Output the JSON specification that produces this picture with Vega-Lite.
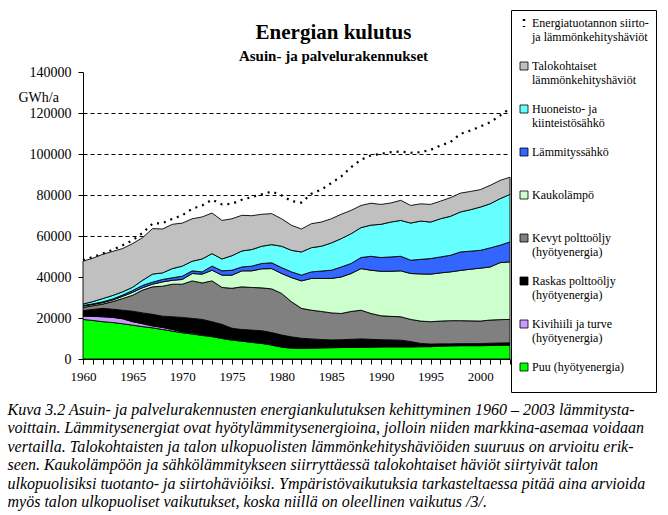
{
  "$schema": "https://vega.github.io/schema/vega-lite/v6.json",
  "width": 427,
  "height": 287,
  "autosize": {"type": "none"},
  "padding": {"left": 83, "top": 72, "right": 158, "bottom": 156},
  "background": "white",
  "title": {
    "text": "Energian kulutus",
    "subtitle": "Asuin- ja palvelurakennukset",
    "font": "Liberation Serif",
    "fontSize": 21,
    "fontWeight": "bold",
    "color": "black",
    "subtitleFont": "Liberation Serif",
    "subtitleFontSize": 15,
    "subtitleFontWeight": "bold",
    "subtitleColor": "black",
    "subtitlePadding": 6,
    "anchor": "middle",
    "frame": "group",
    "dx": 37,
    "offset": -54
  },
  "datasets": {
    "sarjat": [
      {"key": "talo", "ord": 8, "label": "Talokohtaiset|lämmönkehityshäviöt"},
      {"key": "hsahko", "ord": 7, "label": "Huoneisto- ja|kiinteistösähkö"},
      {"key": "lsahko", "ord": 6, "label": "Lämmityssähkö|"},
      {"key": "kauko", "ord": 5, "label": "Kaukolämpö|"},
      {"key": "kevyt", "ord": 4, "label": "Kevyt polttoöljy|(hyötyenergia)"},
      {"key": "raskas", "ord": 3, "label": "Raskas polttoöljy|(hyötyenergia)"},
      {"key": "kivi", "ord": 2, "label": "Kivihiili ja turve|(hyötyenergia)"},
      {"key": "puu", "ord": 1, "label": "Puu  (hyötyenergia)|"}
    ]
  },
  "data": {
    "values": [
      {"v": 1960, "puu": 19300, "kivi": 1600, "raskas": 2700, "kevyt": 1500, "kauko": 700, "lsahko": 300, "hsahko": 700, "talo": 20900, "tot": 48200},
      {"v": 1961, "puu": 18800, "kivi": 2000, "raskas": 3400, "kevyt": 1800, "kauko": 600, "lsahko": 300, "hsahko": 1100, "talo": 21200, "tot": 49800},
      {"v": 1962, "puu": 18200, "kivi": 2400, "raskas": 4100, "kevyt": 2100, "kauko": 700, "lsahko": 400, "hsahko": 1600, "talo": 21600, "tot": 51400},
      {"v": 1963, "puu": 17800, "kivi": 2500, "raskas": 4000, "kevyt": 3700, "kauko": 800, "lsahko": 500, "hsahko": 1700, "talo": 21500, "tot": 53300},
      {"v": 1964, "puu": 17200, "kivi": 2400, "raskas": 4200, "kevyt": 5700, "kauko": 1100, "lsahko": 600, "hsahko": 1600, "talo": 21100, "tot": 55500},
      {"v": 1965, "puu": 16500, "kivi": 1700, "raskas": 5100, "kevyt": 7800, "kauko": 1400, "lsahko": 900, "hsahko": 1600, "talo": 21300, "tot": 57900},
      {"v": 1966, "puu": 15800, "kivi": 1400, "raskas": 5300, "kevyt": 11100, "kauko": 1200, "lsahko": 1100, "hsahko": 2500, "talo": 20800, "tot": 61500},
      {"v": 1967, "puu": 15200, "kivi": 900, "raskas": 5700, "kevyt": 13400, "kauko": 1300, "lsahko": 1000, "hsahko": 3900, "talo": 22200, "tot": 66000},
      {"v": 1968, "puu": 14400, "kivi": 1000, "raskas": 5500, "kevyt": 14600, "kauko": 2100, "lsahko": 1200, "hsahko": 3200, "talo": 21400, "tot": 66300},
      {"v": 1969, "puu": 13600, "kivi": 800, "raskas": 6200, "kevyt": 15900, "kauko": 1900, "lsahko": 1200, "hsahko": 4500, "talo": 21600, "tot": 68400},
      {"v": 1970, "puu": 12800, "kivi": 500, "raskas": 7000, "kevyt": 16200, "kauko": 2300, "lsahko": 1600, "hsahko": 4900, "talo": 21000, "tot": 70100},
      {"v": 1971, "puu": 12200, "kivi": 500, "raskas": 7100, "kevyt": 18300, "kauko": 3600, "lsahko": 1300, "hsahko": 4700, "talo": 20700, "tot": 73300},
      {"v": 1972, "puu": 11500, "kivi": 400, "raskas": 7400, "kevyt": 17800, "kauko": 4300, "lsahko": 1100, "hsahko": 6300, "talo": 20500, "tot": 74900},
      {"v": 1973, "puu": 10900, "kivi": 300, "raskas": 7000, "kevyt": 19900, "kauko": 5200, "lsahko": 2000, "hsahko": 6100, "talo": 19800, "tot": 77700},
      {"v": 1974, "puu": 10000, "kivi": 300, "raskas": 6600, "kevyt": 18000, "kauko": 6000, "lsahko": 2100, "hsahko": 5800, "talo": 18800, "tot": 75400},
      {"v": 1975, "puu": 9200, "kivi": 400, "raskas": 5400, "kevyt": 19500, "kauko": 6400, "lsahko": 2400, "hsahko": 7100, "talo": 18000, "tot": 75700},
      {"v": 1976, "puu": 8700, "kivi": 300, "raskas": 5400, "kevyt": 20800, "kauko": 7800, "lsahko": 1900, "hsahko": 7800, "talo": 17400, "tot": 77700},
      {"v": 1977, "puu": 8100, "kivi": 200, "raskas": 5800, "kevyt": 20800, "kauko": 8100, "lsahko": 2300, "hsahko": 8100, "talo": 16500, "tot": 79000},
      {"v": 1978, "puu": 7600, "kivi": 200, "raskas": 6000, "kevyt": 20900, "kauko": 9300, "lsahko": 2600, "hsahko": 8400, "talo": 15600, "tot": 80300},
      {"v": 1979, "puu": 6800, "kivi": 200, "raskas": 5900, "kevyt": 21300, "kauko": 9900, "lsahko": 2800, "hsahko": 8900, "talo": 15100, "tot": 81700},
      {"v": 1980, "puu": 5800, "kivi": 200, "raskas": 5700, "kevyt": 20300, "kauko": 9700, "lsahko": 2900, "hsahko": 10400, "talo": 13400, "tot": 79800},
      {"v": 1981, "puu": 5300, "kivi": 300, "raskas": 5200, "kevyt": 17100, "kauko": 11800, "lsahko": 2800, "hsahko": 10500, "talo": 12200, "tot": 77000},
      {"v": 1982, "puu": 5200, "kivi": 300, "raskas": 4600, "kevyt": 14600, "kauko": 13400, "lsahko": 2800, "hsahko": 11300, "talo": 11200, "tot": 76300},
      {"v": 1983, "puu": 5300, "kivi": 200, "raskas": 4300, "kevyt": 14000, "kauko": 15500, "lsahko": 3200, "hsahko": 11800, "talo": 11700, "tot": 80600},
      {"v": 1984, "puu": 5400, "kivi": 200, "raskas": 3900, "kevyt": 13700, "kauko": 16100, "lsahko": 3600, "hsahko": 12100, "talo": 11800, "tot": 82600},
      {"v": 1985, "puu": 5500, "kivi": 200, "raskas": 3600, "kevyt": 13200, "kauko": 16800, "lsahko": 4000, "hsahko": 13300, "talo": 11800, "tot": 85800},
      {"v": 1986, "puu": 5600, "kivi": 200, "raskas": 3600, "kevyt": 12800, "kauko": 17800, "lsahko": 4900, "hsahko": 13800, "talo": 11900, "tot": 89000},
      {"v": 1987, "puu": 5600, "kivi": 200, "raskas": 3800, "kevyt": 13600, "kauko": 18500, "lsahko": 4900, "hsahko": 14500, "talo": 11400, "tot": 93600},
      {"v": 1988, "puu": 5700, "kivi": 200, "raskas": 3900, "kevyt": 14000, "kauko": 20300, "lsahko": 5400, "hsahko": 14600, "talo": 10800, "tot": 97200},
      {"v": 1989, "puu": 5800, "kivi": 200, "raskas": 3600, "kevyt": 12600, "kauko": 21100, "lsahko": 6800, "hsahko": 15200, "talo": 10700, "tot": 99300},
      {"v": 1990, "puu": 5900, "kivi": 200, "raskas": 3300, "kevyt": 11700, "kauko": 21700, "lsahko": 6700, "hsahko": 16200, "talo": 9700, "tot": 100100},
      {"v": 1991, "puu": 5900, "kivi": 200, "raskas": 3200, "kevyt": 11500, "kauko": 22000, "lsahko": 7000, "hsahko": 17000, "talo": 9300, "tot": 100900},
      {"v": 1992, "puu": 5900, "kivi": 200, "raskas": 3100, "kevyt": 11400, "kauko": 22400, "lsahko": 7100, "hsahko": 17500, "talo": 9800, "tot": 101200},
      {"v": 1993, "puu": 5900, "kivi": 200, "raskas": 2400, "kevyt": 10800, "kauko": 22400, "lsahko": 6500, "hsahko": 18100, "talo": 8600, "tot": 100600},
      {"v": 1994, "puu": 6000, "kivi": 200, "raskas": 1400, "kevyt": 10900, "kauko": 23000, "lsahko": 7100, "hsahko": 18700, "talo": 8400, "tot": 100900},
      {"v": 1995, "puu": 6000, "kivi": 200, "raskas": 1100, "kevyt": 10900, "kauko": 23200, "lsahko": 7600, "hsahko": 17800, "talo": 8600, "tot": 102000},
      {"v": 1996, "puu": 6300, "kivi": 200, "raskas": 900, "kevyt": 11100, "kauko": 23500, "lsahko": 7800, "hsahko": 18600, "talo": 8600, "tot": 104100},
      {"v": 1997, "puu": 6400, "kivi": 200, "raskas": 800, "kevyt": 11300, "kauko": 23800, "lsahko": 8100, "hsahko": 19000, "talo": 9100, "tot": 105800},
      {"v": 1998, "puu": 6500, "kivi": 200, "raskas": 800, "kevyt": 11200, "kauko": 24500, "lsahko": 9000, "hsahko": 19500, "talo": 9200, "tot": 109800},
      {"v": 1999, "puu": 6500, "kivi": 200, "raskas": 800, "kevyt": 11100, "kauko": 25200, "lsahko": 8800, "hsahko": 20200, "talo": 8900, "tot": 111400},
      {"v": 2000, "puu": 6500, "kivi": 200, "raskas": 800, "kevyt": 11000, "kauko": 25800, "lsahko": 8700, "hsahko": 21100, "talo": 8500, "tot": 113400},
      {"v": 2001, "puu": 6600, "kivi": 200, "raskas": 900, "kevyt": 11300, "kauko": 25900, "lsahko": 9300, "hsahko": 21500, "talo": 9000, "tot": 115500},
      {"v": 2002, "puu": 6700, "kivi": 200, "raskas": 900, "kevyt": 11400, "kauko": 27800, "lsahko": 8500, "hsahko": 22700, "talo": 8900, "tot": 118700},
      {"v": 2003, "puu": 6800, "kivi": 200, "raskas": 900, "kevyt": 11400, "kauko": 28100, "lsahko": 9700, "hsahko": 23200, "talo": 8400, "tot": 122300}
    ]
  },
  "resolve": {"axis": {"x": "independent"}},
  "layer": [
    {
      "transform": [
        {"fold": ["puu", "kivi", "raskas", "kevyt", "kauko", "lsahko", "hsahko", "talo"], "as": ["key", "value"]},
        {"lookup": "key", "from": {"data": {"name": "sarjat"}, "key": "key", "fields": ["ord", "label"]}}
      ],
      "mark": {"type": "area", "interpolate": "linear", "stroke": "black", "strokeWidth": 0.9, "fillOpacity": 1},
      "encoding": {
        "x": {
          "field": "v",
          "type": "quantitative",
          "scale": {"domain": [1960, 2003], "nice": false, "zero": false},
          "axis": {
            "orient": "bottom",
            "values": [1960,1961,1962,1963,1964,1965,1966,1967,1968,1969,1970,1971,1972,1973,1974,1975,1976,1977,1978,1979,1980,1981,1982,1983,1984,1985,1986,1987,1988,1989,1990,1991,1992,1993,1994,1995,1996,1997,1998,1999,2000,2001,2002,2003],
            "labels": false,
            "tickSize": 5,
            "tickColor": "black",
            "domainColor": "black",
            "grid": false,
            "title": null
          }
        },
        "y": {
          "field": "value",
          "type": "quantitative",
          "stack": "zero",
          "title": "GWh/a",
          "scale": {"domain": [0, 140000], "nice": false},
          "axis": {
            "values": [0, 20000, 40000, 60000, 80000, 100000, 120000, 140000],
            "format": "d",
            "labelFontSize": 14,
            "labelPadding": 7,
            "tickSize": 5,
            "grid": true,
            "gridColor": "black",
            "gridDash": [4, 3],
            "gridWidth": 1,
            "gridOpacity": {"condition": {"test": "datum.value >= 140000", "value": 0}, "value": 1},
            "titleAngle": 0,
            "titleAlign": "left",
            "titleBaseline": "middle",
            "titleX": -65,
            "titleY": 25,
            "titleFontSize": 14
          }
        },
        "color": {
          "field": "label",
          "type": "nominal",
          "scale": {
            "domain": [
              "Talokohtaiset|lämmönkehityshäviöt",
              "Huoneisto- ja|kiinteistösähkö",
              "Lämmityssähkö|",
              "Kaukolämpö|",
              "Kevyt polttoöljy|(hyötyenergia)",
              "Raskas polttoöljy|(hyötyenergia)",
              "Kivihiili ja turve|(hyötyenergia)",
              "Puu  (hyötyenergia)|"
            ],
            "range": ["#C0C0C0", "#66FFFF", "#3366FF", "#CCFFCC", "#808080", "#000000", "#CC99FF", "#00FF00"]
          },
          "legend": {
            "title": null,
            "orient": "none",
            "legendX": 428,
            "legendY": -19,
            "padding": 7,
            "labelFont": "Liberation Serif",
            "labelFontSize": 12,
            "labelLineHeight": 15,
            "labelColor": "black",
            "labelLimit": 400,
            "labelOffset": 2,
            "labelExpr": "split(datum.label, '|')",
            "symbolSize": 64,
            "symbolType": "square",
            "symbolStrokeColor": "black",
            "symbolStrokeWidth": 0.8,
            "symbolOpacity": 1,
            "rowPadding": 17
          }
        },
        "order": {"field": "ord", "type": "quantitative"}
      }
    },
    {
      "mark": {"type": "line", "strokeWidth": 2.2, "color": "black"},
      "encoding": {
        "x": {
          "field": "v",
          "type": "quantitative",
          "axis": {
            "orient": "bottom",
            "values": [1960, 1965, 1970, 1975, 1980, 1985, 1990, 1995, 2000],
            "format": "d",
            "ticks": false,
            "domain": false,
            "grid": false,
            "labelFontSize": 13,
            "labelPadding": 11,
            "labelFlush": false,
            "labelOverlap": false,
            "title": [
              "Kuva 3.2 Asuin- ja palvelurakennusten energiankulutuksen kehittyminen 1960 – 2003 lämmitysta-",
              "voittain. Lämmitysenergiat ovat hyötylämmitysenergioina, jolloin niiden markkina-asemaa voidaan",
              "vertailla. Talokohtaisten ja talon ulkopuolisten lämmönkehityshäviöiden suuruus on arvioitu erik-",
              "seen. Kaukolämpöön ja sähkölämmitykseen siirryttäessä talokohtaiset häviöt siirtyivät talon",
              "ulkopuolisiksi tuotanto- ja siirtohäviöiksi. Ympäristövaikutuksia tarkasteltaessa pitää aina arvioida",
              "myös talon ulkopuoliset vaikutukset, koska niillä on oleellinen vaikutus /3/."
            ],
            "titleFontStyle": "italic",
            "titleFontSize": 16,
            "titleLineHeight": 18.5,
            "titleAlign": "left",
            "titleBaseline": "top",
            "titleAnchor": "start",
            "titleX": -76,
            "titleY": 42,
            "titleLimit": 2000
          }
        },
        "y": {"field": "tot", "type": "quantitative", "title": "GWh/a"},
        "strokeDash": {
          "datum": "Energiatuotannon siirto-|ja lämmönkehityshäviöt",
          "type": "nominal",
          "scale": {"domain": ["Energiatuotannon siirto-|ja lämmönkehityshäviöt"], "range": [[2, 5]]},
          "legend": {
            "title": "\u00a0",
            "titleOrient": "bottom",
            "titleFontSize": 12,
            "titlePadding": 331,
            "orient": "none",
            "legendX": 428,
            "legendY": -62,
            "padding": 7,
            "strokeColor": "black",
            "labelFont": "Liberation Serif",
            "labelFontSize": 12,
            "labelLineHeight": 15,
            "labelColor": "black",
            "labelLimit": 400,
            "labelOffset": 2,
            "labelExpr": "split(datum.label, '|')",
            "symbolSize": 64,
            "symbolType": "M0,-1V1",
            "symbolStrokeColor": "black",
            "symbolStrokeWidth": 2.5
          }
        }
      }
    }
  ],
  "config": {
    "view": {"stroke": null},
    "font": "Liberation Serif",
    "axis": {
      "domainColor": "black",
      "tickColor": "black",
      "labelColor": "black",
      "labelFont": "Liberation Serif",
      "titleFont": "Liberation Serif",
      "titleColor": "black",
      "titleFontWeight": "normal"
    }
  }
}
